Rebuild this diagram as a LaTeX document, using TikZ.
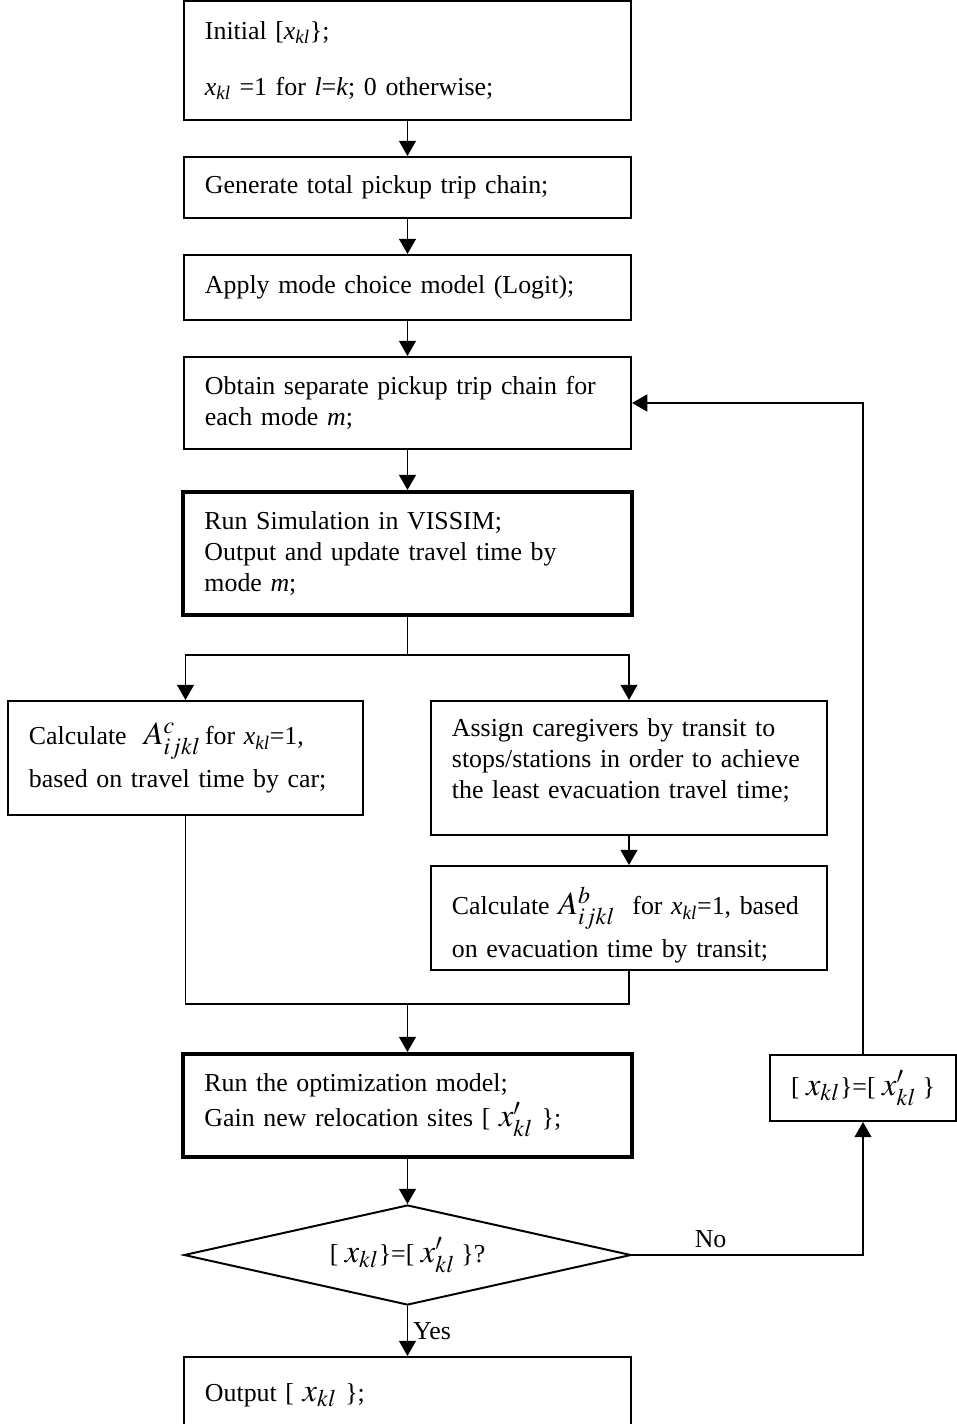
\documentclass[tikz,border=0pt]{standalone}
\usepackage{mathptmx}
\usepackage{fontspec}
\setmainfont{Liberation Serif}
\usetikzlibrary{positioning, arrows.meta, shapes.geometric}

\newcommand{\xkl}{\textit{x}\textsubscript{\textit{kl}}}
\newcommand{\xbig}{{\fontsize{23}{23}\selectfont$x_{kl}$}}
\newcommand{\xpbig}{{\fontsize{23}{23}\selectfont$x'_{kl}$}}
\newcommand{\Abig}[1]{{\fontsize{23}{23}\selectfont$A^{#1}_{ijkl}$}}

\begin{document}
\begin{tikzpicture}[x=0.025cm, y=-0.025cm,
    font=\fontsize{18.4}{22}\selectfont,
    stepbox/.style={draw, line width=1.4pt, align=left, inner xsep=0.525cm, inner ysep=0pt},
    boldbox/.style={stepbox, line width=2.8pt},
    decision/.style={draw, diamond, aspect=4.47, line width=1.4pt, inner sep=0pt, minimum width=11.175cm, minimum height=2.5cm},
    link/.style={line width=1.4pt},
    flow/.style={link, -{Triangle[length=0.38cm, width=0.42cm]}}]
    \useasboundingbox (0,0) rectangle (956,1424);
    \node[stepbox, text width=10.125cm, minimum height=2.975cm] (init) at (407.5,60.5) {Initial [\xkl\};\\[18pt]\xkl{} =1 for \textit{l}=\textit{k}; 0 otherwise;};
    \node[stepbox, text width=10.125cm, minimum height=1.525cm] (gen) at (407.5,187.5) {Generate total pickup trip chain;};
    \node[stepbox, text width=10.125cm, minimum height=1.625cm] (logit) at (407.5,287.5) {Apply mode choice model (Logit);};
    \node[stepbox, text width=10.125cm, minimum height=2.3cm] (sep) at (407.5,403) {Obtain separate pickup trip chain for\\each mode \textit{m};};
    \node[boldbox, text width=10.15cm, minimum height=3.075cm] (vissim) at (407.5,553.5) {Run Simulation in VISSIM;\\Output and update travel time by\\mode \textit{m};};
    \node[stepbox, text width=7.825cm, minimum height=2.85cm] (calcc) at (185.5,758) {Calculate\ \ \Abig{c}\,for \xkl=1,\\[6pt]based on travel time by car;};
    \node[stepbox, text width=8.85cm, minimum height=3.35cm] (assign) at (629,768) {Assign caregivers by transit to\\stops/stations in order to achieve\\the least evacuation travel time;\\[-9pt]\mbox{}};
    \node[stepbox, text width=8.85cm, minimum height=2.6cm] (calcb) at (629,918) {\rule{0pt}{30pt}Calculate \Abig{b}\ \ for \xkl=1, based\\[6pt]on evacuation time by transit;};
    \node[boldbox, text width=10.15cm, minimum height=2.575cm] (optim) at (407.5,1105.5) {Run the optimization model;\\[3pt]Gain new relocation sites [ \xpbig\ \};};
    \node[decision] (check) at (407.5,1255) {[ \xbig\}=[ \xpbig\ \}?};
    \node[stepbox, text width=10.125cm, minimum height=1.9cm] (output) at (407.5,1395) {Output [ \xbig\ \};};
    \node[draw, line width=1.4pt, minimum width=4.65cm, minimum height=1.65cm] (update) at (863,1088) {[ \xbig\}=[ \xpbig\ \}};
    \foreach \a/\b in {init/gen, gen/logit, logit/sep, sep/vissim, assign/calcb, optim/check}
        \draw[flow] (\a.south) -- (\b.north);
    \draw[link] (vissim.south) -- ++(0,38) coordinate (split);
    \draw[flow] (split) -| (calcc.north);
    \draw[flow] (split) -| (assign.north);
    \coordinate (join) at (407.5,1004);
    \draw[link] (calcc.south) |- (join);
    \draw[link] (calcb.south) |- (join);
    \draw[flow] (join) -- (optim.north);
    \draw[flow] (check.south) -- node[right] {Yes} (output.north);
    \draw[flow] (check.east) -| node[pos=0.17, above=1pt] {No} (update.south);
    \draw[flow] (update.north) |- (sep.east);
\end{tikzpicture}
\end{document}
